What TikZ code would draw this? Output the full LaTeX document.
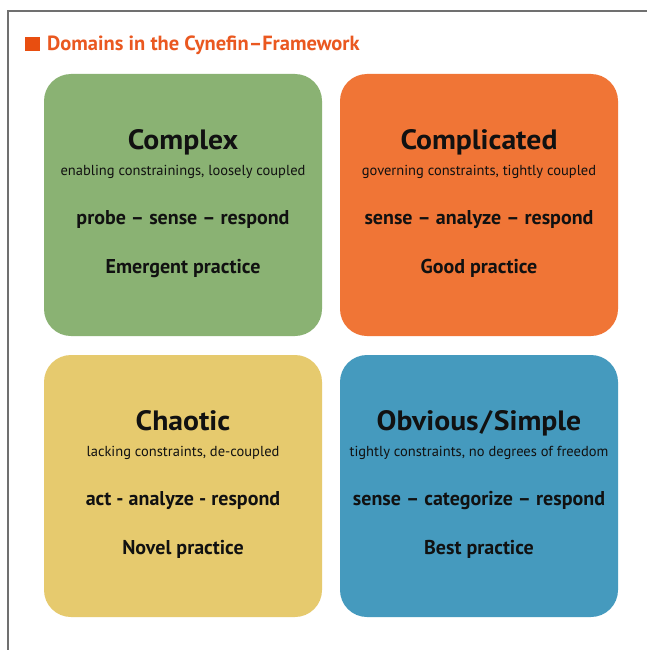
\documentclass[tikz,border=0pt]{standalone}
\usepackage{fontspec}
\setmainfont{PT Sans}
\newfontfamily\subfont{PT Sans}
\newfontfamily\boldfont{PT Sans Bold}
\newfontfamily\headfont[FakeStretch=1.06]{PT Sans Bold}
\definecolor{frameC}{HTML}{707070}
\definecolor{titleC}{HTML}{EA5820}
\definecolor{sqC}{HTML}{E84E10}
\definecolor{greenC}{HTML}{8AB273}
\definecolor{orangeC}{HTML}{F07536}
\definecolor{yellowC}{HTML}{E6CA6E}
\definecolor{blueC}{HTML}{459ABE}
\definecolor{inkC}{HTML}{111111}
\begin{document}
\begin{tikzpicture}[x=1pt,y=-1pt,
  dombox/.style={rounded corners=27pt},
  domtitle/.style={anchor=base,inner sep=0pt,text=inkC,font=\headfont\fontsize{28}{32}\selectfont},
  domsub/.style={anchor=base,inner sep=0pt,text=inkC,font=\subfont\fontsize{14.5}{17}\selectfont},
  dommain/.style={anchor=base,inner sep=0pt,text=inkC,font=\boldfont\fontsize{20}{24}\selectfont}]
\useasboundingbox (0,0) rectangle (647,650);
\fill[white] (0,0) rectangle (647,650);
\draw[frameC,line width=1.4pt] (8,650) -- (8,11) -- (647,11);
\fill[sqC] (25,37) rectangle (40,51);
\node[anchor=base west,inner sep=0pt,text=titleC,font=\boldfont\fontsize{20.5}{24}\selectfont] (title) at (47,51) {Domains in the Cynefin–Framework};
% boxes
\fill[greenC,dombox] (44,74) rectangle (322,336);
\fill[orangeC,dombox] (340,74) rectangle (618,336);
\fill[yellowC,dombox] (44,355) rectangle (322,617);
\fill[blueC,dombox] (340,355) rectangle (618,617);
% Complex
\node[domtitle] (t1) at (183,149) {Complex};
\node[domsub] (s1) at (183,175) {enabling constrainings, loosely coupled};
\node[dommain] (m1) at (183,224) {probe – sense – respond};
\node[dommain] (p1) at (183,273) {Emergent practice};
% Complicated
\node[domtitle] (t2) at (479,149) {Complicated};
\node[domsub] (s2) at (479,175) {governing constraints, tightly coupled};
\node[dommain] (m2) at (479,224) {sense – analyze – respond};
\node[dommain] (p2) at (479,273) {Good practice};
% Chaotic
\node[domtitle] (t3) at (183,430) {Chaotic};
\node[domsub] (s3) at (183,456) {lacking constraints, de-coupled};
\node[dommain] (m3) at (183,505) {act - analyze - respond};
\node[dommain] (p3) at (183,554) {Novel practice};
% Obvious
\node[domtitle] (t4) at (479,430) {Obvious\kern1.5pt/\kern1.5pt Simple};
\node[domsub] (s4) at (479,456) {tightly constraints, no degrees of freedom};
\node[dommain] (m4) at (479,505) {sense – categorize – respond};
\node[dommain] (p4) at (479,554) {Best practice};
\end{tikzpicture}
\end{document}
